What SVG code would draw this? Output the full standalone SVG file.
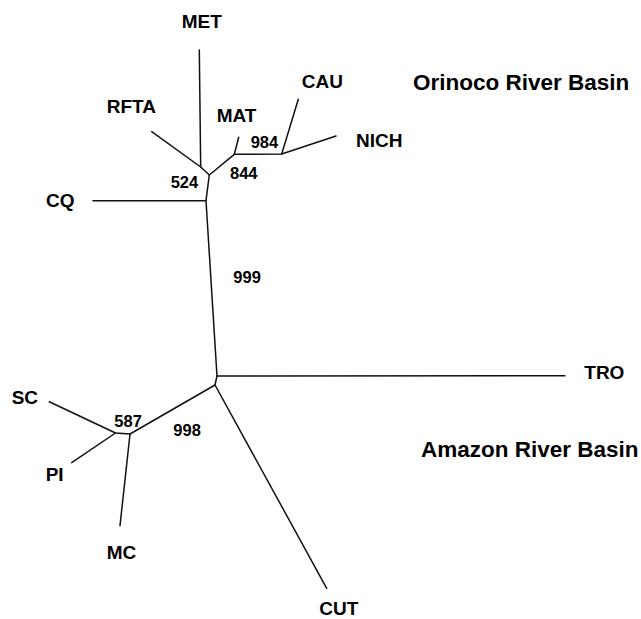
<svg xmlns="http://www.w3.org/2000/svg" width="641" height="619" viewBox="0 0 641 619">
<style>
.e{fill:none;stroke:#111;stroke-width:1.5;stroke-linecap:round;stroke-linejoin:round}
.l{font-family:"Liberation Sans",Arial,sans-serif;font-weight:bold;font-size:19px;fill:#000}
.n{font-family:"Liberation Sans",Arial,sans-serif;font-weight:bold;font-size:16.5px;fill:#000}
.r{font-family:"Liberation Sans",Arial,sans-serif;font-weight:bold;font-size:22.5px;fill:#000}
</style>
<rect width="641" height="619" fill="#fff"/>
<g id="connectors">
<polyline class="e" points="199.3,50 200.7,167"/>
<polyline class="e" points="151.7,131.7 200.7,167 209.3,175"/>
<polyline class="e" points="209.3,175 234.3,154.3 238.7,137.3"/>
<polyline class="e" points="234.3,154.3 281.7,154 298.3,99.3"/>
<polyline class="e" points="281.7,154 336,136"/>
<polyline class="e" points="209.3,175 206,200.7 93,200.7"/>
<polyline class="e" points="206,200.7 217,376 565,375.7"/>
<polyline class="e" points="217,376 215,385 326.7,588.3"/>
<polyline class="e" points="215,385 130,434 115.5,433 49.3,401.7"/>
<polyline class="e" points="115.5,433 71.7,462.7"/>
<polyline class="e" points="130,434 120,525.7"/>
</g>
<g id="MET"><text class="l" x="181.7" y="28">MET</text></g>
<g id="RFTA"><text class="l" x="106.7" y="113.3">RFTA</text></g>
<g id="MAT"><text class="l" x="216.7" y="121.7">MAT</text></g>
<g id="CAU"><text class="l" x="301.7" y="88.3">CAU</text></g>
<g id="NICH"><text class="l" x="356" y="146.7">NICH</text></g>
<g id="CQ"><text class="l" x="46" y="207">CQ</text></g>
<g id="TRO"><text class="l" x="584.3" y="379">TRO</text></g>
<g id="SC"><text class="l" x="11.7" y="404.3">SC</text></g>
<g id="PI"><text class="l" x="45.7" y="480.7">PI</text></g>
<g id="MC"><text class="l" x="106.7" y="558.6">MC</text></g>
<g id="CUT"><text class="l" x="319.3" y="614.5">CUT</text></g>
<g id="labels">
<text class="n" x="250.7" y="147.7">984</text>
<text class="n" x="230" y="179">844</text>
<text class="n" x="170.7" y="188.3">524</text>
<text class="n" x="233.3" y="283.3">999</text>
<text class="n" x="114.3" y="426.7">587</text>
<text class="n" x="173.3" y="436">998</text>
<text class="r" x="413" y="90">Orinoco River Basin</text>
<text class="r" x="421" y="457">Amazon River Basin</text>
</g>
</svg>
